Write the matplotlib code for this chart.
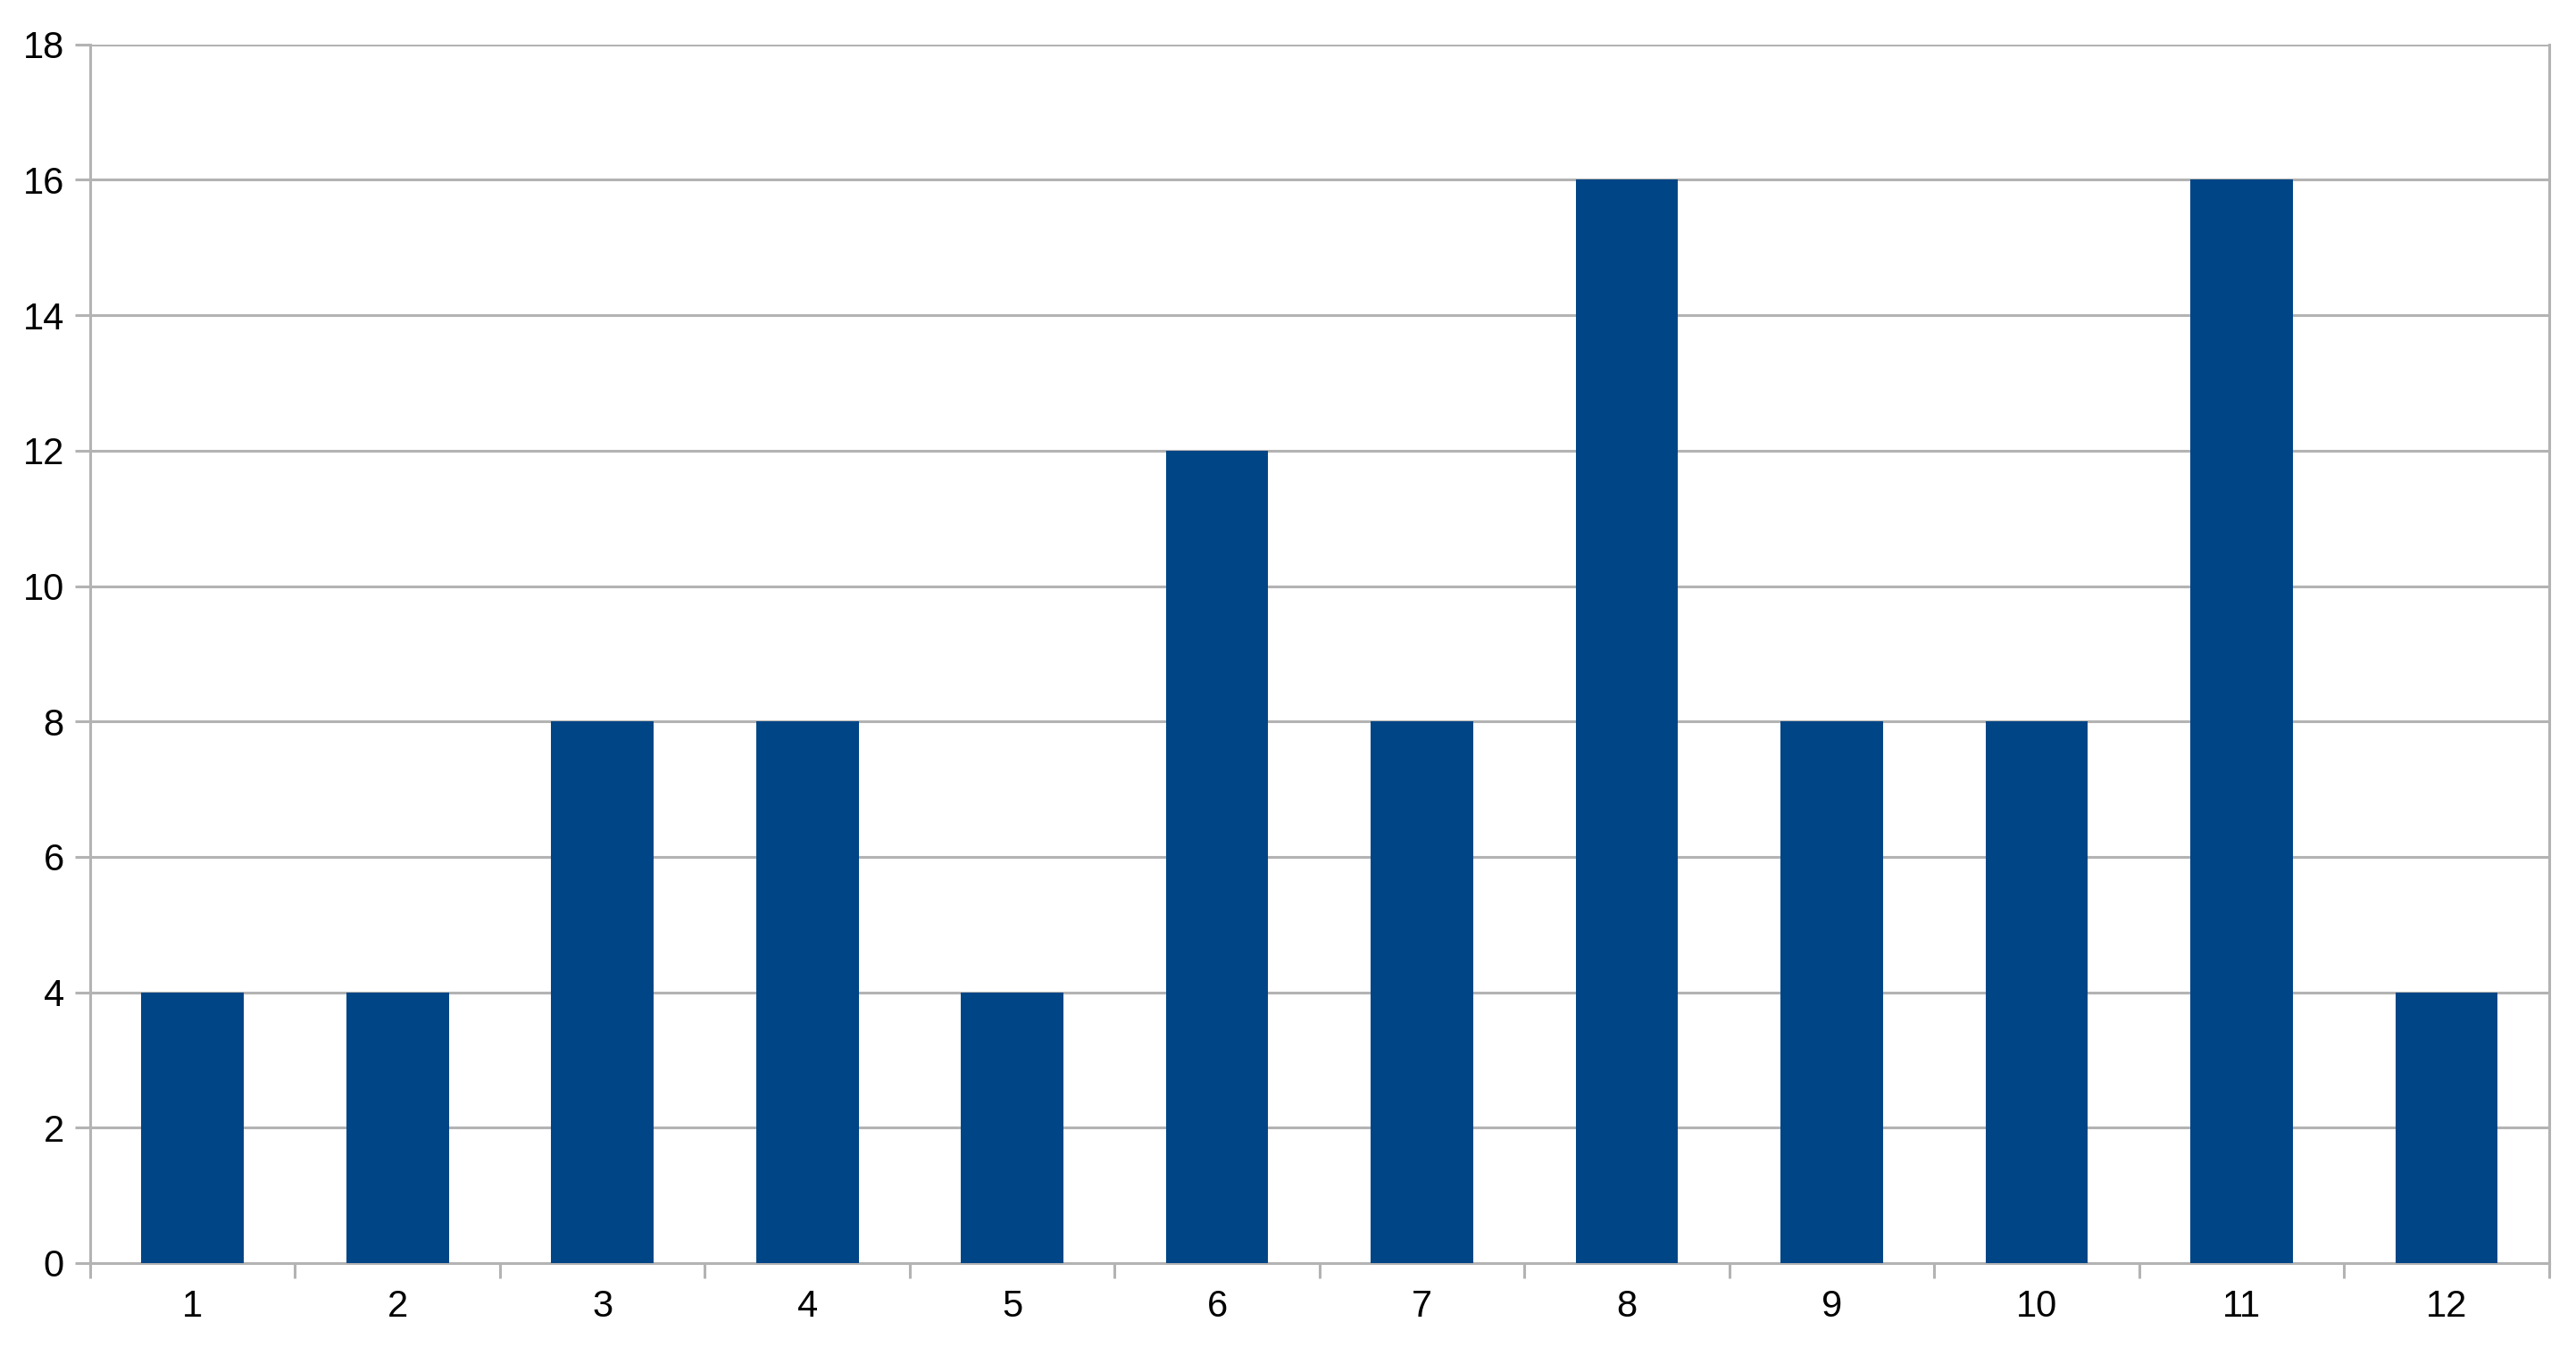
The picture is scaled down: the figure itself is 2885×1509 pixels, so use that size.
import numpy as np
import matplotlib.pyplot as plt

# datos
categorias = ['1', '2', '3', '4', '5', '6', '7', '8', '9', '10', '11', '12']
valores = [4, 4, 8, 8, 4, 12, 8, 16, 8, 8, 16, 4]

AZUL = '#004586'
GRIS = '#b3b3b3'

plt.rcParams['font.family'] = ['Liberation Sans', 'DejaVu Sans']

fig = plt.figure(figsize=(28.85, 15.09), dpi=100)
ax = fig.add_axes([0.035, 0.0623, 0.9545, 0.9047])

x = np.arange(1, len(categorias) + 1)
ax.bar(x, valores, width=0.5, color=AZUL, zorder=3)

ax.set_xlim(0.5, len(categorias) + 0.5)
ax.set_ylim(0, 18)
ax.set_yticks(np.arange(0, 19, 2))
ax.grid(axis='y', color=GRIS, linewidth=2.2, zorder=0)

# ticks en los bordes de cada categoria, etiquetas en el centro
ax.set_xticks(np.arange(0.5, len(categorias) + 1, 1))
ax.set_xticklabels([])
ax.set_xticks(x, minor=True)
ax.set_xticklabels(categorias, minor=True)
ax.tick_params(axis='x', which='major', length=12.5, width=2.2, color=GRIS)
ax.tick_params(axis='x', which='minor', length=0, pad=21, labelsize=30)
ax.tick_params(axis='y', length=12, width=2.2, color=GRIS, pad=9, labelsize=30)

for lado in ['left', 'right', 'bottom']:
    ax.spines[lado].set_color(GRIS)
    ax.spines[lado].set_linewidth(2.2)
ax.spines['top'].set_visible(False)

fig.savefig('out.png')
